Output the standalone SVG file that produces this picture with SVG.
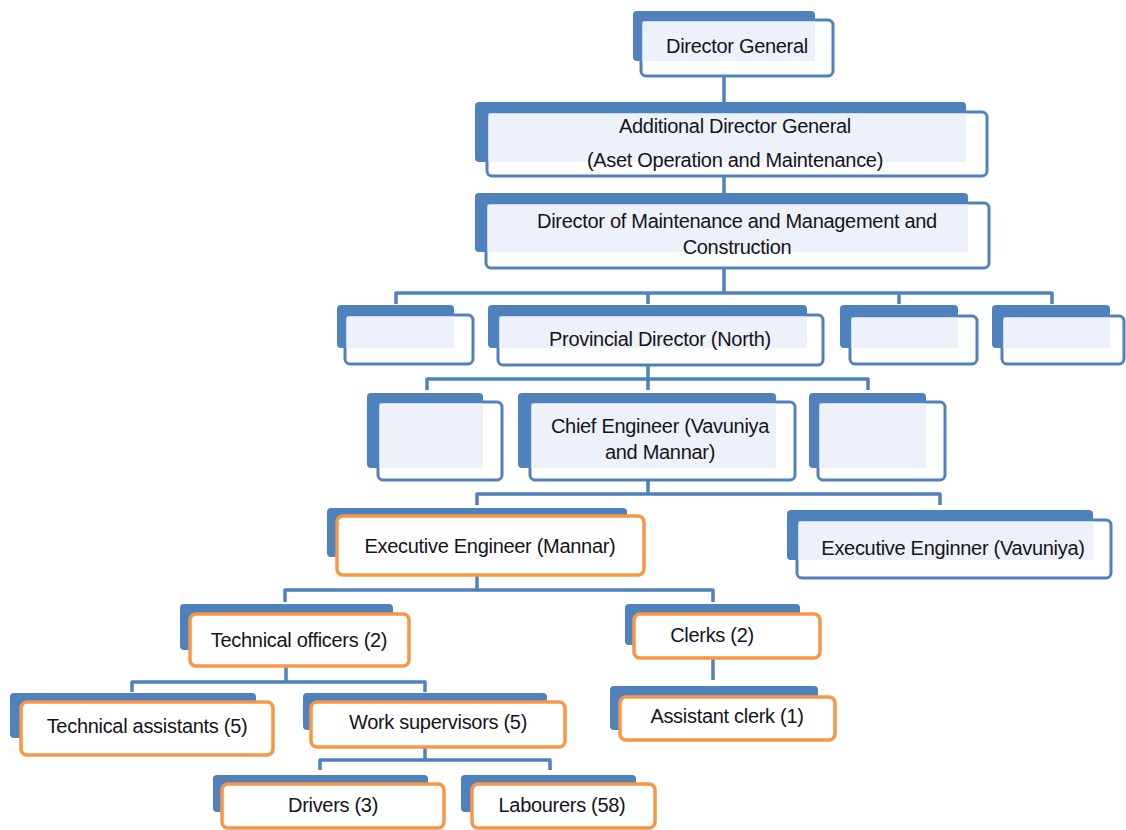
<svg xmlns="http://www.w3.org/2000/svg" width="1126" height="830" viewBox="0 0 1126 830">
<style>
.bk{fill:#4F81BD}
.fb{fill:#fff;stroke:#4F81BD;stroke-width:3}
.fo{fill:#fff;stroke:#F79646;stroke-width:3.5}
.tn{fill:#EDF1F9}
.c{stroke:#4F81BD;stroke-width:3.5;fill:none;stroke-linejoin:round}
.t{font-family:"Liberation Sans",Arial,sans-serif;font-size:20px;letter-spacing:-0.3px;fill:#141420;text-anchor:middle}
</style>
<rect width="1126" height="830" fill="#fff"/>
<g id="connectors">
<path class="c" d="M724,76V102"/>
<path class="c" d="M724,176V193"/>
<path class="c" d="M724,268V293M396,304V293H1052V304M648,293V304M899,293V304"/>
<path class="c" d="M648,365V379M427,390V379H868V390M648,379V390"/>
<path class="c" d="M648,480V494M477,505V494H940V505"/>
<path class="c" d="M477,575V590M285,602V590H713V602"/>
<path class="c" d="M286,666V682M132,692V682H425V692"/>
<path class="c" d="M713,658V680"/>
<path class="c" d="M425,747V760M320,770V760H550V770"/>
</g>
<g id="director-general">
<rect class="bk" x="633" y="11" width="182" height="50" rx="4"/>
<rect class="fb" x="641" y="20" width="192" height="56" rx="5"/>
<rect class="tn" x="642.5" y="21.5" width="172.5" height="39.5"/>
<text class="t" x="737" y="53">Director General</text>
</g>
<g id="additional-director-general">
<rect class="bk" x="475" y="102" width="491" height="60" rx="4"/>
<rect class="fb" x="487" y="112" width="500" height="64" rx="5"/>
<rect class="tn" x="488.5" y="113.5" width="477.5" height="48.5"/>
<text class="t" x="735" y="133">Additional Director General</text>
<text class="t" x="735" y="167">(Aset  Operation and Maintenance)</text>
</g>
<g id="director-maintenance">
<rect class="bk" x="475" y="193" width="493" height="59" rx="4"/>
<rect class="fb" x="486" y="203" width="503" height="65" rx="5"/>
<rect class="tn" x="487.5" y="204.5" width="480.5" height="47.5"/>
<text class="t" x="737" y="228">Director of Maintenance and Management and</text>
<text class="t" x="737" y="254">Construction</text>
</g>
<g id="blank-1">
<rect class="bk" x="337" y="305" width="117" height="43" rx="4"/>
<rect class="fb" x="345" y="315" width="128" height="49" rx="5"/>
<rect class="tn" x="346.5" y="316.5" width="107.5" height="31.5"/>
</g>
<g id="provincial-director">
<rect class="bk" x="488" y="305" width="319" height="43" rx="4"/>
<rect class="fb" x="498" y="315" width="325" height="50" rx="5"/>
<rect class="tn" x="499.5" y="316.5" width="307.5" height="31.5"/>
<text class="t" x="660" y="346">Provincial Director (North)</text>
</g>
<g id="blank-2">
<rect class="bk" x="840" y="305" width="118" height="43" rx="4"/>
<rect class="fb" x="850" y="316" width="127" height="48" rx="5"/>
<rect class="tn" x="851.5" y="317.5" width="106.5" height="30.5"/>
</g>
<g id="blank-3">
<rect class="bk" x="992" y="305" width="118" height="43" rx="4"/>
<rect class="fb" x="1002" y="316" width="122" height="48" rx="5"/>
<rect class="tn" x="1003.5" y="317.5" width="106.5" height="30.5"/>
</g>
<g id="blank-4">
<rect class="bk" x="367" y="393" width="116" height="75" rx="4"/>
<rect class="fb" x="378" y="402" width="124" height="78" rx="5"/>
<rect class="tn" x="379.5" y="403.5" width="103.5" height="64.5"/>
</g>
<g id="chief-engineer">
<rect class="bk" x="518" y="393" width="258" height="75" rx="4"/>
<rect class="fb" x="530" y="402" width="265" height="78" rx="5"/>
<rect class="tn" x="531.5" y="403.5" width="244.5" height="64.5"/>
<text class="t" x="660" y="433">Chief Engineer (Vavuniya</text>
<text class="t" x="660" y="459">and Mannar)</text>
</g>
<g id="blank-5">
<rect class="bk" x="809" y="393" width="117" height="75" rx="4"/>
<rect class="fb" x="818" y="402" width="127" height="78" rx="5"/>
<rect class="tn" x="819.5" y="403.5" width="106.5" height="64.5"/>
</g>
<g id="executive-engineer-mannar">
<rect class="bk" x="327" y="508" width="300" height="49" rx="4"/>
<rect class="fo" x="337" y="516" width="307" height="59" rx="6"/>
<text class="t" x="490" y="553">Executive Engineer (Mannar)</text>
</g>
<g id="executive-engineer-vavuniya">
<rect class="bk" x="787" y="510" width="306" height="50" rx="4"/>
<rect class="fb" x="797" y="520" width="314" height="58" rx="5"/>
<rect class="tn" x="798.5" y="521.5" width="294.5" height="38.5"/>
<text class="t" x="953" y="555">Executive Enginner (Vavuniya)</text>
</g>
<g id="technical-officers">
<rect class="bk" x="180" y="604" width="213" height="46" rx="4"/>
<rect class="fo" x="190" y="614" width="219" height="52" rx="6"/>
<text class="t" x="299" y="647">Technical officers (2)</text>
</g>
<g id="clerks">
<rect class="bk" x="625" y="604" width="175" height="41" rx="4"/>
<rect class="fo" x="634" y="614" width="186" height="44" rx="6"/>
<text class="t" x="712" y="642">Clerks (2)</text>
</g>
<g id="assistant-clerk">
<rect class="bk" x="610" y="686" width="208" height="44" rx="4"/>
<rect class="fo" x="620" y="697" width="215" height="43" rx="6"/>
<text class="t" x="727" y="723">Assistant clerk (1)</text>
</g>
<g id="technical-assistants">
<rect class="bk" x="10" y="693" width="246" height="45" rx="4"/>
<rect class="fo" x="21" y="702" width="252" height="53" rx="6"/>
<text class="t" x="147" y="733">Technical assistants (5)</text>
</g>
<g id="work-supervisors">
<rect class="bk" x="303" y="693" width="244" height="37" rx="4"/>
<rect class="fo" x="311" y="702" width="254" height="45" rx="6"/>
<text class="t" x="438" y="729">Work supervisors (5)</text>
</g>
<g id="drivers">
<rect class="bk" x="213" y="775" width="215" height="37" rx="4"/>
<rect class="fo" x="222" y="784" width="222" height="44" rx="6"/>
<text class="t" x="333" y="812">Drivers (3)</text>
</g>
<g id="labourers">
<rect class="bk" x="461" y="775" width="175" height="37" rx="4"/>
<rect class="fo" x="472" y="784" width="183" height="44" rx="6"/>
<text class="t" x="562" y="812">Labourers (58)</text>
</g>
</svg>
